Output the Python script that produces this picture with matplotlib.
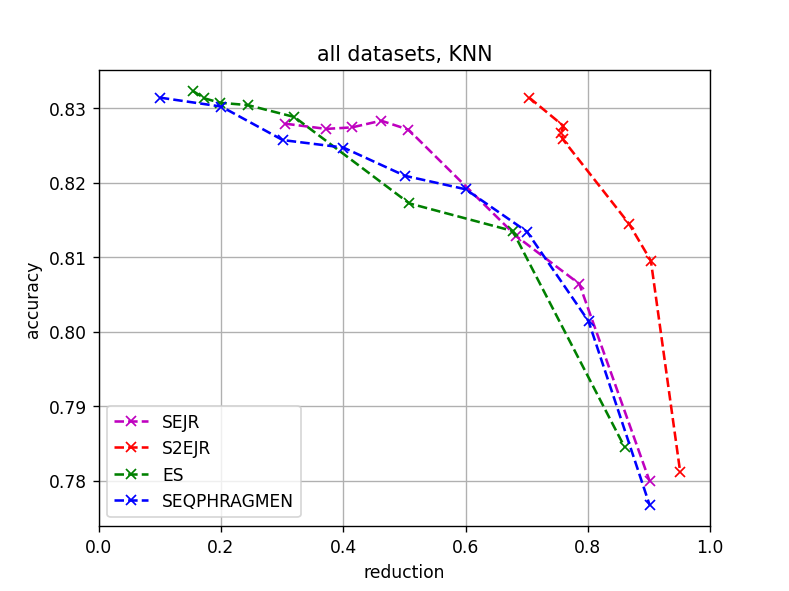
import matplotlib
matplotlib.use("Agg")
import matplotlib.pyplot as plt

# reduction / accuracy per method
sejr_x = [0.305, 0.372, 0.414, 0.462, 0.5065, 0.683, 0.786, 0.901]
sejr_y = [0.8279, 0.8272, 0.8274, 0.8283, 0.8271, 0.8128, 0.8064, 0.7799]

s2ejr_x = [0.704, 0.760, 0.756, 0.759, 0.867, 0.903, 0.951]
s2ejr_y = [0.8314, 0.8276, 0.8266, 0.8258, 0.8145, 0.8095, 0.7811]

es_x = [0.154, 0.173, 0.199, 0.2435, 0.320, 0.508, 0.677, 0.860]
es_y = [0.8323, 0.8313, 0.8307, 0.8304, 0.8288, 0.8172, 0.8135, 0.7845]

seq_x = [0.100, 0.2005, 0.301, 0.400, 0.501, 0.600, 0.7005, 0.801, 0.901]
seq_y = [0.8314, 0.8302, 0.8257, 0.8247, 0.8209, 0.8191, 0.8134, 0.8014, 0.7767]

fig, ax = plt.subplots(figsize=(6.4, 4.8), dpi=123.3)

ax.plot(sejr_x, sejr_y, 'mx--', label='SEJR')
ax.plot(s2ejr_x, s2ejr_y, 'rx--', label='S2EJR')
ax.plot(es_x, es_y, 'gx--', label='ES')
ax.plot(seq_x, seq_y, 'bx--', label='SEQPHRAGMEN')

ax.set_xlim(0, 1)
ax.grid(True)
ax.set_title('all datasets, KNN')
ax.set_xlabel('reduction')
ax.set_ylabel('accuracy')
ax.legend(loc='lower left')

plt.savefig('out.png')
